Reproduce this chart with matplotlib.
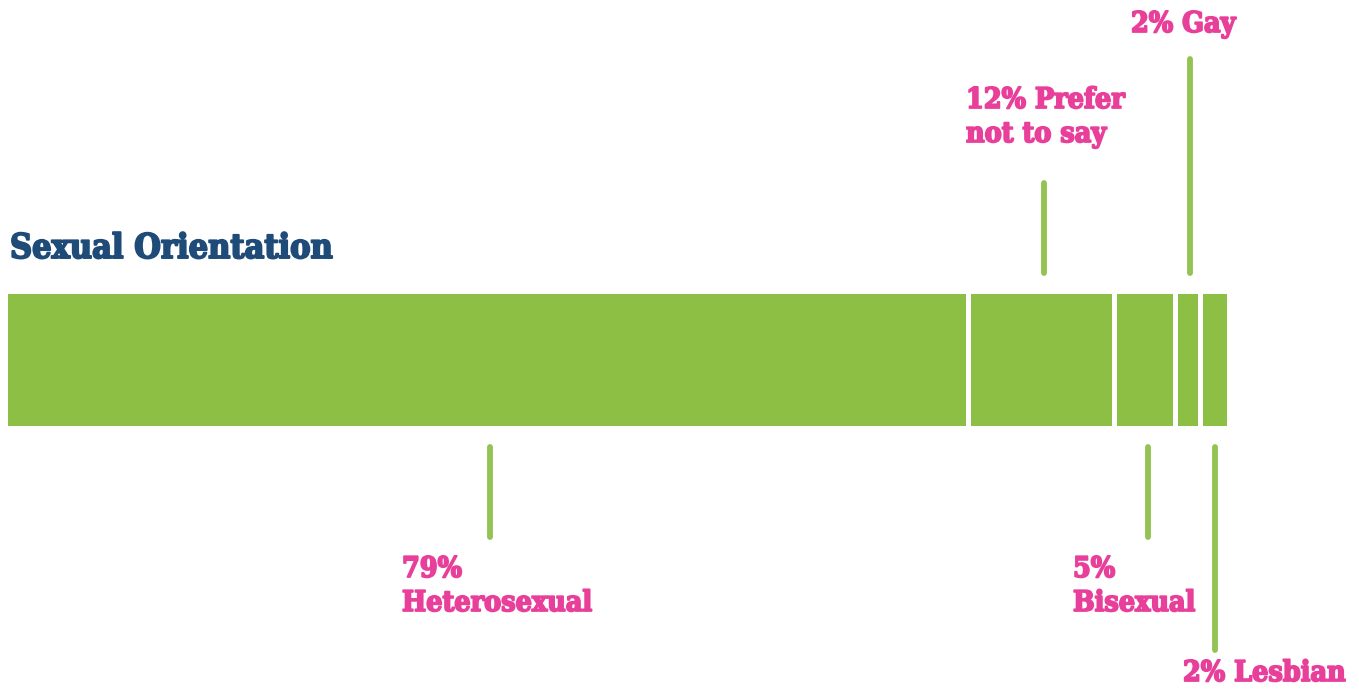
import matplotlib.pyplot as plt
import matplotlib.patheffects as pe
import numpy as np

categories = ["Heterosexual", "Prefer not to say", "Bisexual", "Gay", "Lesbian"]
values = [79, 12, 5, 2, 2]
title = "Sexual Orientation"

GREEN = "#8dbf45"
LINE_GREEN = "#93c353"
PINK = "#e8409a"
NAVY = "#1f4b78"
W, H = 1359, 691

fig = plt.figure(figsize=(W / 100, H / 100), dpi=100)
ax = fig.add_axes([0, 0, 1, 1])
px_per_pct = 12.19
ax.set_xlim(-8 / px_per_pct, (W - 8) / px_per_pct)
ax.set_ylim(H, 0)
ax.axis("off")

vals = np.array(values, dtype=float)
starts = np.concatenate([[0], np.cumsum(vals)[:-1]])
mids = starts + vals / 2
gap = 5 / px_per_pct
widths = vals - gap
widths[-1] = vals[-1]

# stacked bar
ax.barh(y=360, width=widths, left=starts, height=132, color=GREEN, edgecolor="none")

# leader lines: (y_start, y_end) per segment
leaders = {
    "Heterosexual": (447, 537),
    "Prefer not to say": (183, 273),
    "Bisexual": (447, 537),
    "Gay": (59, 273),
    "Lesbian": (447, 650),
}
for cat, m in zip(categories, mids):
    y0, y1 = leaders[cat]
    ax.plot([m, m], [y0, y1], color=LINE_GREEN, lw=4.2, solid_capstyle="round")

font = dict(family="DejaVu Serif", fontweight="bold", fontstretch="condensed")


def put(x, y, s, color=PINK, size=20.5, stroke=1.3):
    fig.text(x / W, 1 - y / H, s, color=color, fontsize=size, va="baseline",
             ha="left",
             path_effects=[pe.withStroke(linewidth=stroke, foreground=color)],
             **font)


put(10, 258, title, color=NAVY, size=24.5, stroke=1.4)

labels = {
    "Heterosexual": [(402, 577, f"{values[0]}%"), (402, 611, "Heterosexual")],
    "Prefer not to say": [(966, 108, f"{values[1]}% Prefer"), (966, 142, "not to say")],
    "Bisexual": [(1073, 577, f"{values[2]}%"), (1073, 611, "Bisexual")],
    "Gay": [(1131, 32, f"{values[3]}% Gay")],
    "Lesbian": [(1183, 681, f"{values[4]}% Lesbian")],
}
for cat in categories:
    for x, y, s in labels[cat]:
        put(x, y, s)

fig.savefig("out.png", dpi=100, facecolor="white")
